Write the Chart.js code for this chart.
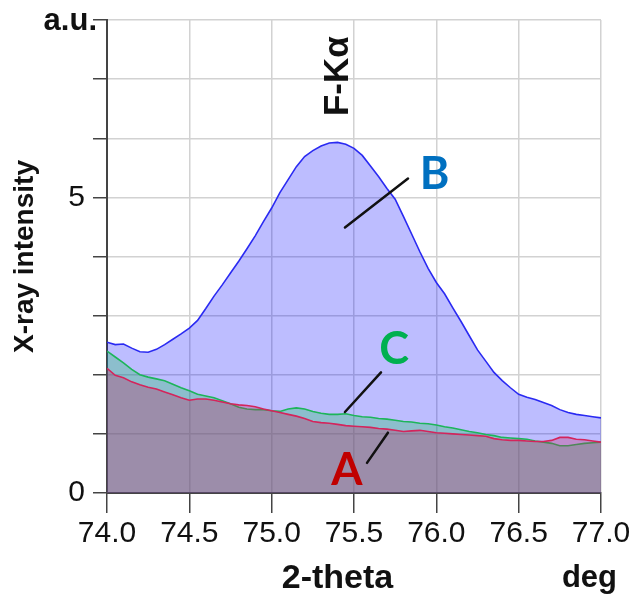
<!DOCTYPE html>
<html>
<head>
<meta charset="utf-8">
<script src="https://cdn.jsdelivr.net/npm/chart.js@4.4.1/dist/chart.umd.min.js"></script>
<style>
  html, body { margin: 0; padding: 0; background: #fff; }
  #wrap { width: 636px; height: 594px; position: relative; }
</style>
</head>
<body>
<div id="wrap"><canvas id="c" width="636" height="594"></canvas></div>
<script>
// ---- data ----
const twoTheta = [
  74.00, 74.05, 74.10, 74.15, 74.20, 74.25, 74.30, 74.35, 74.40, 74.45,
  74.50, 74.55, 74.60, 74.65, 74.70, 74.75, 74.80, 74.85, 74.90, 74.95,
  75.00, 75.05, 75.10, 75.15, 75.20, 75.25, 75.30, 75.35, 75.40, 75.45,
  75.50, 75.55, 75.60, 75.65, 75.70, 75.75, 75.80, 75.85, 75.90, 75.95,
  76.00, 76.05, 76.10, 76.15, 76.20, 76.25, 76.30, 76.35, 76.40, 76.45,
  76.50, 76.55, 76.60, 76.65, 76.70, 76.75, 76.80, 76.85, 76.90, 76.95,
  77.00
];
const seriesB = [
  2.55, 2.51, 2.52, 2.45, 2.39, 2.38, 2.43, 2.51, 2.60, 2.69,
  2.79, 2.92, 3.12, 3.33, 3.52, 3.72, 3.92, 4.13, 4.35, 4.59,
  4.82, 5.08, 5.30, 5.52, 5.69, 5.79, 5.87, 5.92, 5.93, 5.90,
  5.83, 5.71, 5.53, 5.35, 5.15, 4.97, 4.68, 4.38, 4.08, 3.80,
  3.56, 3.37, 3.13, 2.90, 2.66, 2.42, 2.23, 2.04, 1.90, 1.78,
  1.67, 1.62, 1.58, 1.53, 1.48, 1.41, 1.36, 1.33, 1.31, 1.29,
  1.27
];
const seriesC = [
  2.40, 2.30, 2.20, 2.09, 2.00, 1.96, 1.93, 1.90, 1.84, 1.78,
  1.73, 1.67, 1.64, 1.61, 1.56, 1.51, 1.45, 1.42, 1.41, 1.41,
  1.39, 1.38, 1.42, 1.44, 1.42, 1.38, 1.35, 1.33, 1.33, 1.34,
  1.31, 1.29, 1.28, 1.26, 1.25, 1.23, 1.21, 1.20, 1.18, 1.17,
  1.15, 1.12, 1.10, 1.07, 1.04, 1.02, 0.99, 0.97, 0.94, 0.93,
  0.92, 0.91, 0.88, 0.86, 0.84, 0.80, 0.80, 0.82, 0.84, 0.85,
  0.86
];
const seriesA = [
  2.11, 1.99, 1.95, 1.88, 1.83, 1.79, 1.76, 1.71, 1.66, 1.61,
  1.57, 1.59, 1.59, 1.57, 1.54, 1.51, 1.49, 1.48, 1.46, 1.42,
  1.39, 1.36, 1.33, 1.30, 1.26, 1.21, 1.19, 1.18, 1.16, 1.14,
  1.13, 1.12, 1.11, 1.09, 1.08, 1.06, 1.04, 1.05, 1.06, 1.04,
  1.02, 1.01, 1.00, 0.99, 0.98, 0.97, 0.96, 0.92, 0.90, 0.89,
  0.89, 0.88, 0.87, 0.87, 0.89, 0.94, 0.94, 0.91, 0.90, 0.88,
  0.86
];
const xTicks = [74.0, 74.5, 75.0, 75.5, 76.0, 76.5, 77.0];
const yLabelled = [0, 5];

// ---- styling / annotations (data-space anchors) ----
const FONT = "'Liberation Sans', Arial, sans-serif";
const LABEL_FONT = "Lato, 'Liberation Sans', sans-serif";
const annotations = [
  { text: 'B', color: '#0070C0', at: [75.99, 5.39], line: [[75.445, 4.49], [75.828, 5.32]] },
  { text: 'C', color: '#00B050', at: [75.743, 2.42], line: [[75.445, 1.37], [75.664, 2.04]] },
  { text: 'A', color: '#C00000', at: [75.457, 0.38], line: [[75.579, 0.51], [75.706, 1.02]] }
];

const pts = (ys) => twoTheta.map((x, i) => ({ x: x, y: ys[i] }));

const overlay = {
  id: 'overlay',
  afterDatasetsDraw(chart) {
    const { ctx, scales: { x, y }, chartArea } = chart;
    ctx.save();
    annotations.forEach(a => {
      ctx.strokeStyle = '#111';
      ctx.lineWidth = 2.5;
      ctx.lineCap = 'round';
      ctx.beginPath();
      ctx.moveTo(x.getPixelForValue(a.line[0][0]), y.getPixelForValue(a.line[0][1]));
      ctx.lineTo(x.getPixelForValue(a.line[1][0]), y.getPixelForValue(a.line[1][1]));
      ctx.stroke();
      ctx.fillStyle = a.color;
      ctx.font = "bold 45px " + LABEL_FONT;
      ctx.textAlign = 'center';
      ctx.textBaseline = 'middle';
      ctx.fillText(a.text, x.getPixelForValue(a.at[0]), y.getPixelForValue(a.at[1]));
    });
    ctx.save();
    ctx.translate(x.getPixelForValue(75.403), y.getPixelForValue(7.05));
    ctx.rotate(-Math.PI / 2);
    ctx.fillStyle = '#111';
    ctx.font = "bold 35px " + FONT;
    ctx.textAlign = 'center';
    ctx.textBaseline = 'middle';
    ctx.fillText('F-Kα', 0, 0);
    ctx.restore();
    ctx.fillStyle = '#111';
    ctx.font = "bold 31px " + FONT;
    ctx.textAlign = 'right';
    ctx.textBaseline = 'middle';
    ctx.fillText('a.u.', chartArea.left - 10, y.getPixelForValue(8) + 1);
    ctx.textAlign = 'center';
    ctx.textBaseline = 'alphabetic';
    ctx.font = "bold 34px " + FONT;
    ctx.fillText('2-theta', x.getPixelForValue(75.40), chartArea.bottom + 95);
    ctx.font = "bold 31px " + FONT;
    ctx.fillText('deg', x.getPixelForValue(76.93), chartArea.bottom + 94);
    ctx.restore();
  }
};

new Chart(document.getElementById('c'), {
  type: 'line',
  data: {
    datasets: [
      { label: 'A', data: pts(seriesA), borderColor: '#D4245C', backgroundColor: 'rgba(197,30,88,0.30)', fill: 'origin', borderWidth: 1.6, pointRadius: 0, tension: 0 },
      { label: 'C', data: pts(seriesC), borderColor: '#1DB55A', backgroundColor: 'rgba(27,193,88,0.30)', fill: 'origin', borderWidth: 1.6, pointRadius: 0, tension: 0 },
      { label: 'B', data: pts(seriesB), borderColor: '#2A2AF2', backgroundColor: 'rgba(0,0,255,0.26)', fill: 'origin', borderWidth: 1.6, pointRadius: 0, tension: 0 }
    ]
  },
  options: {
    responsive: false,
    animation: false,
    devicePixelRatio: 1,
    layout: { padding: { left: 0, right: 35, top: 20, bottom: 0 } },
    plugins: { legend: { display: false }, tooltip: { enabled: false } },
    scales: {
      x: {
        type: 'linear',
        min: 74, max: 77,
        afterBuildTicks: (s) => { s.ticks = xTicks.map(v => ({ value: v })); },
        afterFit: (s) => { s.height = 101; s.paddingLeft = 0; s.paddingRight = 0; },
        ticks: {
          callback: (v) => Number(v).toFixed(1),
          color: '#111',
          font: { family: FONT, size: 30 },
          padding: 3,
          maxRotation: 0,
          autoSkip: false
        },
        grid: { color: '#d2d2d2', lineWidth: 1.5, tickColor: '#444', tickWidth: 1.5, tickLength: 20 },
        border: { color: '#444', width: 2 }
      },
      y: {
        min: 0, max: 8,
        ticks: {
          stepSize: 1,
          callback: (v) => yLabelled.includes(v) ? String(v) : '',
          color: '#111',
          font: { family: FONT, size: 30 },
          padding: 8
        },
        afterFit: (s) => { s.width = 107; s.paddingTop = 0; s.paddingBottom = 0; },
        grid: { color: '#d2d2d2', lineWidth: 1.5, tickColor: '#444', tickWidth: 1.5, tickLength: 14 },
        border: { color: '#444', width: 2 },
        title: {
          display: true,
          text: 'X-ray intensity',
          color: '#111',
          font: { family: FONT, size: 28, weight: 'bold' },
          padding: { top: 8, bottom: 0 }
        }
      }
    }
  },
  plugins: [overlay]
});
</script>
</body>
</html>
